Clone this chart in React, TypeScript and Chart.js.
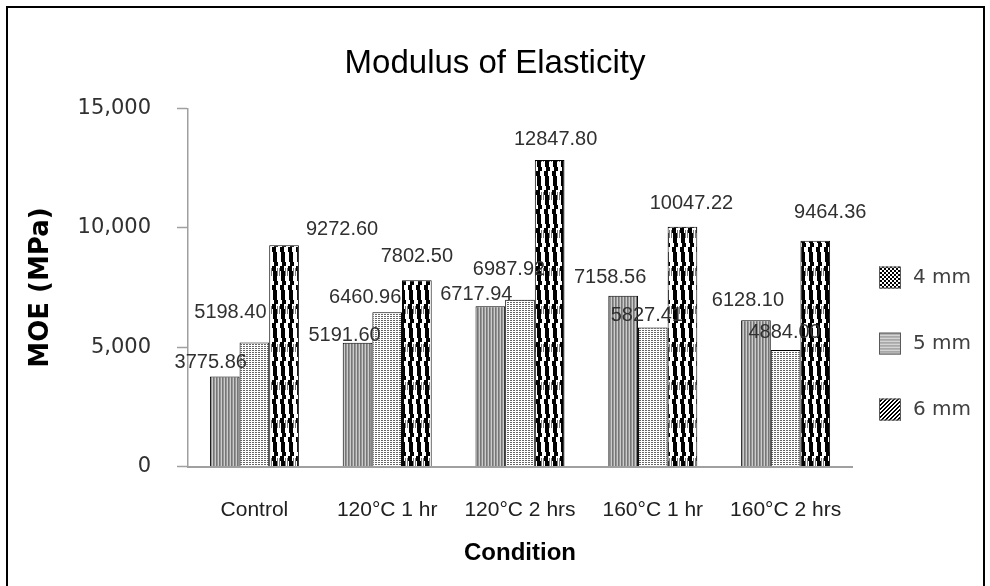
import React, { useEffect, useRef } from 'react';
import { Chart, registerables } from 'chart.js';

Chart.register(...registerables);

const CATEGORIES = ['Control', '120°C 1 hr', '120°C 2 hrs', '160°C 1 hr', '160°C 2 hrs'];
const SERIES_NAMES = ['4 mm', '5 mm', '6 mm'];
const MM4 = [3775.86, 5191.6, 6717.94, 7158.56, 6128.1];
const MM5 = [5198.4, 6460.96, 6987.92, 5827.41, 4884.0];
const MM6 = [9272.6, 7802.5, 12847.8, 10047.22, 9464.36];
const Y_TICKS = [0, 5000, 10000, 15000];

// data label placement, px relative to the top centre of each bar: [dx, dy above]
const LABEL_OFFSETS = [
  [[-14, 14], [-13, 7], [-14, 12], [-13, 18], [-8, 20]],
  [[-24, 30], [-22, 15], [-11, 30], [-6, 12], [-1, 17]],
  [[58, 16], [0, 24], [6, 20], [9, 23], [15, 28]],
];

function makeTile(w: number, h: number, draw: (c: CanvasRenderingContext2D) => void) {
  const c = document.createElement('canvas');
  c.width = w;
  c.height = h;
  const cx = c.getContext('2d')!;
  draw(cx);
  return c;
}

function px(c: CanvasRenderingContext2D, x: number, y: number, color: string, w = 1, h = 1) {
  c.fillStyle = color;
  c.fillRect(x, y, w, h);
}

export default function App() {
  const ref = useRef<HTMLCanvasElement>(null);

  useEffect(() => {
    const canvas = ref.current!;
    const ctx = canvas.getContext('2d')!;

    // bar patterns
    const stripeTile = makeTile(3, 1, (c) => {
      px(c, 0, 0, '#767676');
      px(c, 1, 0, '#969696');
      px(c, 2, 0, '#cccccc');
    });
    const dotTile = makeTile(3, 2, (c) => {
      px(c, 0, 0, '#ffffff', 3, 2);
      px(c, 0, 0, '#666666', 2, 1);
    });
    const waveTile = makeTile(8, 38, (c) => {
      px(c, 0, 0, '#ffffff', 8, 38);
      for (let y = 0; y < 38; y++) {
        const s = Math.round(((y % 19) / 19) * 2);
        px(c, s, y, '#000000', 4, 1);
      }
      for (let y = 2; y < 10; y++) {
        px(c, 5, y, '#7a7a7a');
        px(c, 7, y, '#7a7a7a');
      }
    });
    const pStripe = ctx.createPattern(stripeTile, 'repeat')!;
    const pDot = ctx.createPattern(dotTile, 'repeat')!;
    const pWave = ctx.createPattern(waveTile, 'repeat')!;

    // legend patterns
    const lgDots = makeTile(4, 4, (c) => {
      px(c, 0, 0, '#ffffff', 4, 4);
      px(c, 0, 0, '#000000', 2, 2);
      px(c, 2, 2, '#000000', 2, 2);
    });
    const lgLines = makeTile(1, 3, (c) => {
      px(c, 0, 0, '#a8a8a8');
      px(c, 0, 1, '#b4b4b4');
      px(c, 0, 2, '#d4d4d4');
    });
    const lgWeave = makeTile(4, 4, (c) => {
      px(c, 0, 0, '#ffffff', 4, 4);
      for (let y = 0; y < 4; y++)
        for (let x = 0; x < 4; x++) if ((x + y) % 4 < 2) px(c, x, y, '#000000');
    });
    const legendPatterns = [
      ctx.createPattern(lgDots, 'repeat')!,
      ctx.createPattern(lgLines, 'repeat')!,
      ctx.createPattern(lgWeave, 'repeat')!,
    ];

    const labelsPlugin = {
      id: 'barValueLabels',
      afterDatasetsDraw(chart: any) {
        const c = chart.ctx as CanvasRenderingContext2D;
        c.save();
        c.font = '20px "Liberation Sans", Arial, sans-serif';
        c.fillStyle = '#303030';
        c.textAlign = 'center';
        c.textBaseline = 'middle';
        chart.data.datasets.forEach((ds: any, di: number) => {
          const meta = chart.getDatasetMeta(di);
          meta.data.forEach((bar: any, i: number) => {
            const [dx, dy] = LABEL_OFFSETS[di][i];
            c.fillText(Number(ds.data[i]).toFixed(2), bar.x + dx, bar.y - dy);
          });
        });
        c.restore();
      },
    };

    const legendPlugin = {
      id: 'sideLegend',
      afterDraw(chart: any) {
        const c = chart.ctx as CanvasRenderingContext2D;
        const area = chart.chartArea;
        const cy = (area.top + area.bottom) / 2 + 56;
        const gap = 66;
        const bx = area.right + 27;
        SERIES_NAMES.forEach((name, i) => {
          const y = cy + (i - 1) * gap;
          c.save();
          c.fillStyle = legendPatterns[i];
          c.fillRect(bx, y - 11, 22, 22);
          c.strokeStyle = '#595959';
          c.lineWidth = 1;
          c.strokeRect(bx + 0.5, y - 10.5, 21, 21);
          c.fillStyle = '#404040';
          c.font = '20px "DejaVu Sans", sans-serif';
          c.textAlign = 'left';
          c.textBaseline = 'middle';
          c.fillText(name, bx + 34, y);
          c.restore();
        });
      },
    };

    const chart = new Chart(canvas, {
      type: 'bar',
      data: {
        labels: CATEGORIES,
        datasets: [
          { label: SERIES_NAMES[0], data: MM4, backgroundColor: pStripe, borderColor: '#000', borderWidth: 1 },
          { label: SERIES_NAMES[1], data: MM5, backgroundColor: pDot, borderColor: '#000', borderWidth: 1 },
          { label: SERIES_NAMES[2], data: MM6, backgroundColor: pWave, borderColor: '#000', borderWidth: 1 },
        ],
      },
      options: {
        animation: false,
        responsive: false,
        devicePixelRatio: 1,
        categoryPercentage: 0.67,
        barPercentage: 1.0,
        layout: { padding: 0 },
        plugins: {
          legend: { display: false },
          tooltip: { enabled: false },
          title: {
            display: true,
            text: 'Modulus of Elasticity',
            color: '#000',
            font: { family: '"Liberation Sans", Arial, sans-serif', size: 33, weight: 'normal' },
            padding: { top: 44, bottom: 25 },
          },
        },
        scales: {
          x: {
            grid: { display: true, drawOnChartArea: false, drawTicks: false },
            border: { display: true, color: '#a0a0a0', width: 2 },
            ticks: {
              color: '#202020',
              padding: 31,
              font: { family: '"Liberation Sans", Arial, sans-serif', size: 21 },
              maxRotation: 0,
              autoSkip: false,
            },
            title: {
              display: true,
              text: 'Condition',
              color: '#000',
              font: { family: '"Liberation Sans", Arial, sans-serif', size: 24, weight: 'bold' },
              padding: { top: 0, bottom: 18 },
            },
            afterFit(scale: any) {
              scale.height = 119.5;
            },
          },
          y: {
            min: 0,
            max: 15000,
            afterBuildTicks(scale: any) {
              scale.ticks = Y_TICKS.map((v) => ({ value: v }));
            },
            grid: {
              drawOnChartArea: false,
              drawTicks: true,
              tickLength: 11,
              tickColor: '#a0a0a0',
              tickWidth: 1.5,
            },
            border: { display: true, color: '#a0a0a0', width: 1.5 },
            ticks: {
              color: '#303030',
              padding: 26,
              font: { family: '"DejaVu Sans", sans-serif', size: 21 },
              callback: (v: any) => Number(v).toLocaleString('en-US'),
            },
            title: {
              display: true,
              text: 'MOE (MPa)',
              color: '#000',
              font: { family: '"DejaVu Sans", sans-serif', size: 26, weight: 'bold' },
              padding: { top: 26, bottom: 0 },
            },
            afterFit(scale: any) {
              scale.width = 188;
            },
          },
          legendSpace: {
            type: 'linear',
            position: 'right',
            display: true,
            grid: { display: false, drawTicks: false },
            border: { display: false },
            ticks: { display: false },
            afterFit(scale: any) {
              scale.width = 138;
            },
          },
        },
      },
      plugins: [labelsPlugin, legendPlugin],
    } as any);

    return () => chart.destroy();
  }, []);

  return (
    <div
      style={{
        position: 'absolute',
        left: 0,
        top: 0,
        width: 990,
        height: 586,
        background: '#fff',
        overflow: 'hidden',
      }}
    >
      <div
        style={{
          position: 'absolute',
          left: 6,
          top: 6,
          width: 979,
          height: 700,
          borderLeft: '2px solid #000',
          borderTop: '2px solid #000',
          borderRight: '2px solid #000',
          boxSizing: 'border-box',
        }}
      />
      <canvas ref={ref} width={990} height={586} style={{ position: 'absolute', left: 0, top: 0 }} />
    </div>
  );
}
